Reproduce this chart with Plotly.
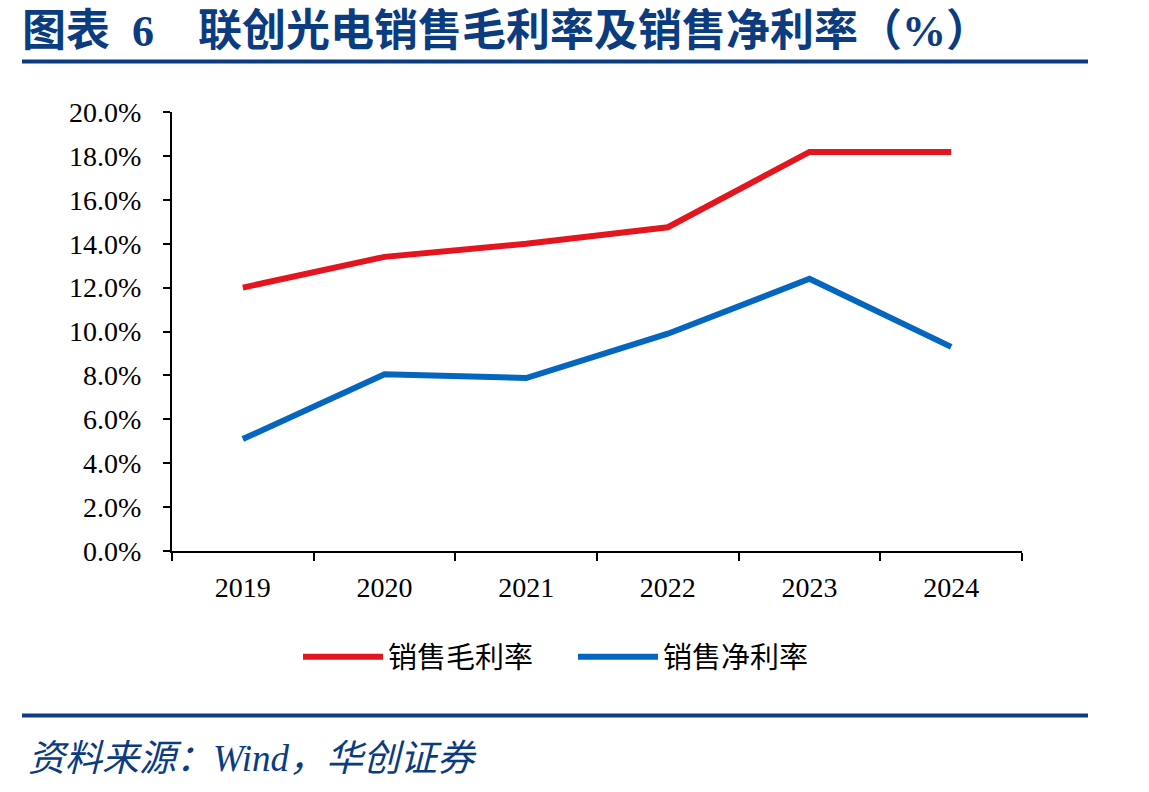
import plotly.graph_objects as go

years = ["2019", "2020", "2021", "2022", "2023", "2024"]
gross_margin = [12.0, 13.4, 14.0, 14.75, 18.18, 18.18]
net_margin = [5.1, 8.05, 7.88, 9.9, 12.4, 9.3]
series_names = ["销售毛利率", "销售净利率"]
y_ticks = [0, 2, 4, 6, 8, 10, 12, 14, 16, 18, 20]
y_tick_labels = [f"{v:.1f}%" for v in y_ticks]

W, H = 1149, 792
L, R, T, B = 172, 1022, 112, 551
NAVY = "#0B3C80"
SERIF = "Liberation Serif, Times New Roman, Noto Sans CJK SC, serif"
CJK = "Liberation Serif, Noto Sans CJK SC, sans-serif"


def px(x):
    return (x - L) / (R - L)


def py(y):
    return (B - y) / (B - T)


fig = go.Figure()
fig.add_trace(go.Scatter(x=years, y=gross_margin, mode="lines", name=series_names[0],
                         line=dict(color="#E3151F", width=6)))
fig.add_trace(go.Scatter(x=years, y=net_margin, mode="lines", name=series_names[1],
                         line=dict(color="#0566BF", width=6)))

fig.update_layout(
    width=W, height=H,
    margin=dict(l=L, r=W - R, t=T, b=H - B, pad=0),
    paper_bgcolor="white", plot_bgcolor="white",
    font=dict(family=SERIF, color="black", size=28),
    showlegend=True,
    legend=dict(orientation="h", x=px(298), xanchor="left", y=py(657), yanchor="middle",
                font=dict(family=CJK, size=29, color="black"),
                itemwidth=80, entrywidth=180, tracegroupgap=0, bgcolor="rgba(0,0,0,0)"),
    xaxis=dict(type="category", range=[-0.5, 5.5], tickson="boundaries",
               showline=True, linecolor="black", linewidth=2,
               ticks="outside", ticklen=8, tickwidth=2, tickcolor="black",
               showgrid=False, zeroline=False, ticklabelstandoff=10,
               tickfont=dict(family=SERIF, size=28, color="black")),
    yaxis=dict(range=[0, 20], tickvals=y_ticks, ticktext=y_tick_labels,
               showline=True, linecolor="black", linewidth=2,
               ticks="outside", ticklen=7, tickwidth=2, tickcolor="black",
               showgrid=False, zeroline=False, ticklabelstandoff=16,
               tickfont=dict(family=SERIF, size=28, color="black")),
)

# header / footer rules
fig.add_shape(type="line", xref="paper", yref="paper", x0=px(22), x1=px(1088),
              y0=py(61.5), y1=py(61.5), line=dict(color=NAVY, width=4))
fig.add_shape(type="line", xref="paper", yref="paper", x0=px(22), x1=px(1088),
              y0=py(715.5), y1=py(715.5), line=dict(color=NAVY, width=4))

fig.add_annotation(xref="paper", yref="paper", x=px(20), y=py(31), xanchor="left", yanchor="middle",
                   text="<b>图表  6    联创光电销售毛利率及销售净利率（%）</b>", showarrow=False,
                   font=dict(family=CJK, size=44, color=NAVY))
fig.add_annotation(xref="paper", yref="paper", x=px(26), y=py(758), xanchor="left", yanchor="middle",
                   text="<i>资料来源：Wind，华创证券</i>", showarrow=False,
                   font=dict(family=CJK, size=37, color=NAVY))

fig.write_html("out.html")
